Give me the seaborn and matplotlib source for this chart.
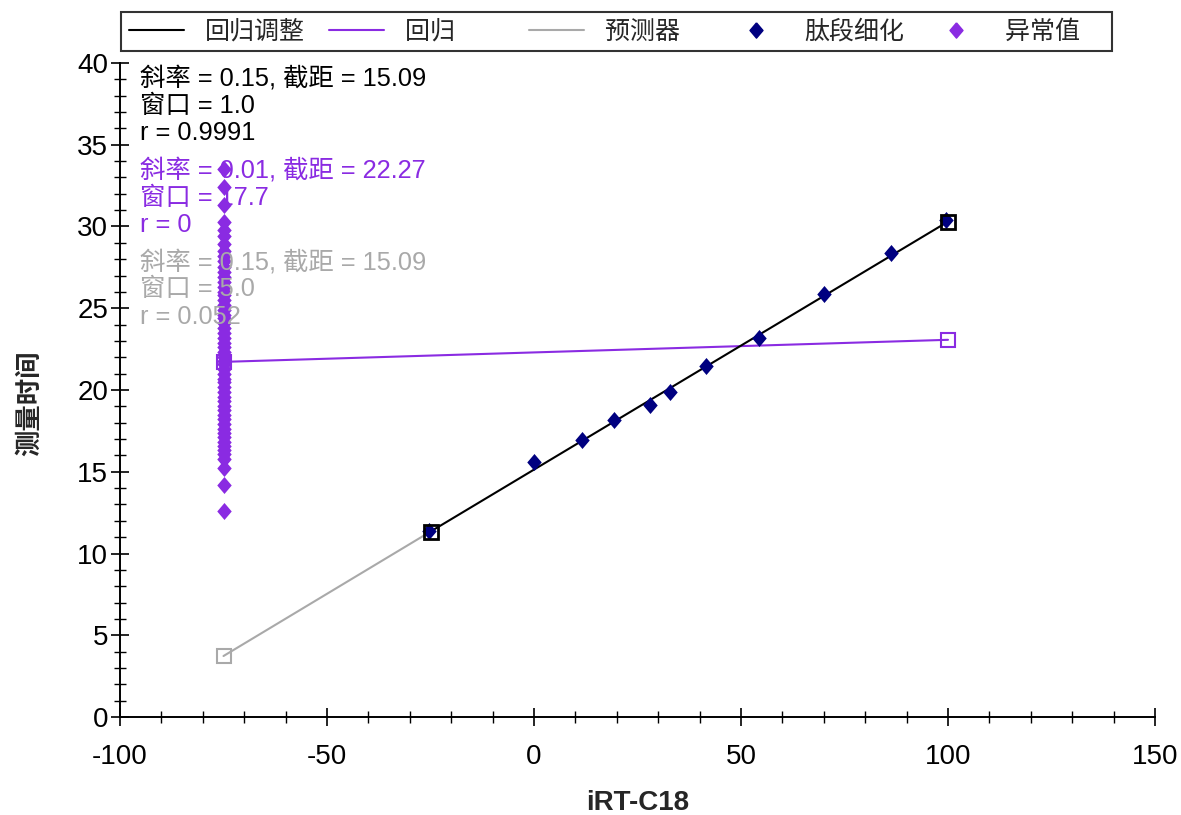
import matplotlib
matplotlib.use("Agg")
import matplotlib.pyplot as plt
import seaborn as sns
import pandas as pd
from matplotlib.lines import Line2D
from matplotlib.ticker import MultipleLocator

# ---------------- data ----------------
pep_x = [-25.4, 0.0, 11.6, 19.3, 28.0, 32.9, 41.5, 54.3, 70.0, 86.2, 99.6]
pep_y = [11.38, 15.62, 16.94, 18.17, 19.10, 19.88, 21.47, 23.18, 25.87, 28.38, 30.40]

outlier_y = [33.5, 32.4, 31.3, 30.3, 29.8, 29.4, 28.9, 28.5, 28.2, 27.9, 27.5,
             27.2, 26.9, 26.6, 26.3, 26.0, 25.8, 25.5, 25.2, 24.9, 24.6, 24.4,
             24.1, 23.8, 23.5, 23.2, 22.9, 22.6, 22.3, 22.0, 21.8, 21.6, 21.3,
             21.0, 20.7, 20.5, 20.2, 19.9, 19.6, 19.3, 19.0, 18.8, 18.5, 18.2,
             17.9, 17.6, 17.4, 17.1, 16.8, 16.6, 16.3, 16.1, 15.8, 15.2, 14.2,
             12.6]
outlier_x = [-75.0] * len(outlier_y)

adj_line_x = [-25.0, 100.0]
adj_line_y = [11.34, 30.30]
reg_line_x = [-75.0, 100.0]
reg_line_y = [21.72, 23.07]
pred_line_x = [-75.0, -25.0]
pred_line_y = [3.73, 11.34]

ann_adj = ["斜率 = 0.15, 截距 = 15.09", "窗口 = 1.0", "r = 0.9991"]
ann_reg = ["斜率 = 0.01, 截距 = 22.27", "窗口 = 17.7", "r = 0"]
ann_pred = ["斜率 = 0.15, 截距 = 15.09", "窗口 = 5.0", "r = 0.052"]

legend_labels = ["回归调整", "回归", "预测器", "肽段细化", "异常值"]

x_label = "iRT-C18"
y_label = "测量时间"

# ---------------- style ----------------
C_ADJ = "#000000"
C_REG = "#8A2BE2"
C_PRED = "#A9A9A9"
C_PEP = "#000080"
C_OUT = "#8A2BE2"

sns.set_theme(style="ticks")
plt.rcParams["font.family"] = ["Liberation Sans", "Noto Sans CJK SC", "DejaVu Sans"]
plt.rcParams["axes.unicode_minus"] = False

fig = plt.figure(figsize=(11.81, 8.15), dpi=100)
ax = fig.add_axes([120 / 1181, 98 / 815, 1035 / 1181, 654 / 815])

diamond = [(0, 1), (0.85, 0), (0, -1), (-0.85, 0), (0, 1)]

# lines
sns.lineplot(x=pred_line_x, y=pred_line_y, color=C_PRED, lw=1.5, ax=ax,
             estimator=None, sort=False)
sns.lineplot(x=reg_line_x, y=reg_line_y, color=C_REG, lw=1.5, ax=ax,
             estimator=None, sort=False)
sns.lineplot(x=adj_line_x, y=adj_line_y, color=C_ADJ, lw=1.5, ax=ax,
             estimator=None, sort=False)

# points
sns.scatterplot(x=outlier_x, y=outlier_y, color=C_OUT, marker=diamond, s=150,
                linewidth=0, ax=ax, zorder=3)
sns.scatterplot(x=pep_x, y=pep_y, color=C_PEP, marker=diamond, s=150,
                linewidth=0, ax=ax, zorder=3)

# square end markers
ax.plot(pred_line_x[:1], pred_line_y[:1], ls="none", marker="s", ms=10,
        mfc="none", mec=C_PRED, mew=1.5, zorder=4)
ax.plot(reg_line_x, reg_line_y, ls="none", marker="s", ms=10,
        mfc="none", mec=C_REG, mew=1.5, zorder=4)
ax.plot(adj_line_x, adj_line_y, ls="none", marker="s", ms=10,
        mfc="none", mec=C_ADJ, mew=2.0, zorder=4)

# axes
ax.set_xlim(-100, 150)
ax.set_ylim(0, 40)
ax.xaxis.set_major_locator(MultipleLocator(50))
ax.xaxis.set_minor_locator(MultipleLocator(10))
ax.yaxis.set_major_locator(MultipleLocator(5))
ax.yaxis.set_minor_locator(MultipleLocator(1))
for s in ["top", "right"]:
    ax.spines[s].set_visible(False)
for s in ["left", "bottom"]:
    ax.spines[s].set_color("black")
    ax.spines[s].set_linewidth(1.4)
ax.tick_params(which="major", direction="inout", length=13, width=1.2,
               color="black", labelsize=20, labelcolor="black")
ax.tick_params(which="minor", direction="inout", length=8, width=1.0,
               color="black")
ax.tick_params(axis="x", which="major", pad=13)
ax.tick_params(axis="y", which="major", pad=2)
ax.set_xlabel(x_label, fontsize=20, fontweight="bold", labelpad=14)
ax.set_ylabel(y_label, fontsize=19, fontweight="bold")
ax.yaxis.set_label_coords(-0.075, 0.48)
ax.grid(False)

# annotations
def put_block(lines, tops, color):
    for txt, p in zip(lines, tops):
        ax.text(20 / 1035, (717 - p) / 654, txt, transform=ax.transAxes,
                fontsize=18.3, color=color, va="center", ha="left")

put_block(ann_adj, [78, 106, 133], C_ADJ)
put_block(ann_reg, [170, 198, 225], C_REG)
put_block(ann_pred, [262, 289, 317], C_PRED)

# legend
pad_labels = [l + "\u3000" * (4 - len(l)) for l in legend_labels]
handles = [
    Line2D([], [], color=C_ADJ, lw=1.5),
    Line2D([], [], color=C_REG, lw=1.5),
    Line2D([], [], color=C_PRED, lw=1.5),
    Line2D([], [], ls="none", marker=diamond, ms=11, color=C_PEP),
    Line2D([], [], ls="none", marker=diamond, ms=11, color=C_OUT),
]
leg = fig.legend(handles, pad_labels, ncol=5, loc="upper left",
                 bbox_to_anchor=(121 / 1181, 1 - 12 / 815), fontsize=18,
                 frameon=True, fancybox=False, edgecolor="black",
                 handlelength=2.2, handletextpad=0.85, columnspacing=0.95,
                 borderpad=0.3, borderaxespad=0)
leg.get_frame().set_linewidth(1.5)

fig.savefig("out.png", dpi=100)
